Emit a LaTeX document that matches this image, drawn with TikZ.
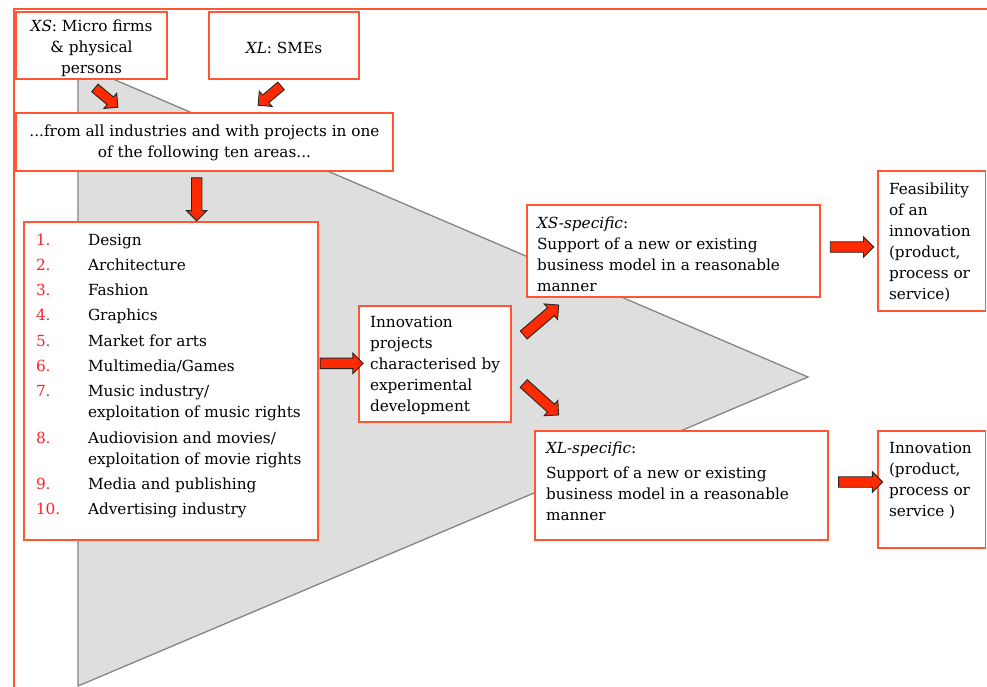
\documentclass[tikz,border=0pt]{standalone}
\usepackage{fontspec}
\setmainfont{DejaVu Serif}
\usetikzlibrary{shapes.arrows}
\definecolor{boxred}{HTML}{FF5533}
\definecolor{arrred}{HTML}{FF2A00}
\definecolor{numred}{HTML}{FF2222}
\definecolor{trifill}{HTML}{DEDEDE}
\definecolor{triline}{HTML}{858585}
\newcommand\mystrut{\rule{0pt}{14.7pt}}
% left-aligned box text: width, height, left pad, top pad, content
\newcommand\bxl[5]{\parbox[c][#2pt][t]{#1pt}{\raggedright\leftskip=#3pt\relax\parindent=0pt\vspace*{#4pt}\mystrut #5}}
% centred box text: width, height, top pad, content
\newcommand\bxc[4]{\parbox[c][#2pt][t]{#1pt}{\centering\vspace*{#3pt}\mystrut #4}}
\newcommand\num[1]{\makebox[52pt][l]{\color{numred}#1}}
\tikzset{
  redbox/.style={draw=boxred, line width=1.6pt, fill=white, inner sep=0pt, outer sep=0pt,
    anchor=north west, font=\fontsize{15.3}{21}\selectfont},
  barrow/.style={single arrow, draw=black!85, line width=0.9pt, fill=arrred,
    inner xsep=0pt, inner ysep=4.8pt, single arrow head extend=5pt,
    minimum width=0pt, outer sep=0pt},
  sbarrow/.style={barrow, inner ysep=4.5pt, single arrow head extend=5pt},
}
\begin{document}
\begin{tikzpicture}[x=1pt,y=-1pt]
\useasboundingbox (0,0) rectangle (987,686);
\clip (0,0) rectangle (987,686);
% outer frame
\draw[boxred, line width=2pt] (14,8.5) rectangle (1000,700);
% grey triangle
\filldraw[fill=trifill, draw=triline, line width=1.3pt, line join=miter]
  (78,64) -- (78,686) -- (808,377) -- cycle;
% boxes
\node[redbox] (xs) at (16,12) {\bxc{151}{67}{4.3}{\textit{XS}: Micro firms\\ \& physical\\ persons}};
\node[redbox] (xl) at (209,12) {\bxc{150}{67}{26.3}{\textit{XL}: SMEs}};
\node[redbox] (from) at (16,113) {\bxc{377}{58}{8.3}{...from all industries and with projects in one\\ of the following ten areas...}};
\node[redbox] (list) at (24,222) {\bxl{294}{318}{12}{8.3}{%
\num{1.}Design\\[4.3pt]
\num{2.}Architecture\\[4.3pt]
\num{3.}Fashion\\[4.3pt]
\num{4.}Graphics\\[4.3pt]
\num{5.}Market for arts\\[4.3pt]
\num{6.}Multimedia/Games\\[4.3pt]
\num{7.}Music industry/\\
\hspace*{52pt}exploitation of music rights\\[4.3pt]
\num{8.}Audiovision and movies/\\
\hspace*{52pt}exploitation of movie rights\\[4.3pt]
\num{9.}Media and publishing\\[4.3pt]
\num{10.}Advertising industry}};
\node[redbox] (innov) at (359,306) {\bxl{152}{116}{11}{7}{Innovation\\ projects\\ characterised by\\ experimental\\ development}};
\node[redbox] (xsspec) at (527,205) {\bxl{293}{92}{10}{8.3}{\textit{XS-specific}:\\ Support of a new or existing\\ business model in a reasonable\\ manner}};
\node[redbox] (xlspec) at (535,431) {\bxl{293}{109}{11}{7.3}{\textit{XL-specific}:\\[4pt] Support of a new or existing\\ business model in a reasonable\\ manner}};
\node[redbox] (feas) at (878,171) {\bxl{107.5}{140}{11}{8.3}{Feasibility\\ of an\\ innovation\\ (product,\\ process or\\ service)}};
\node[redbox] (inno) at (878,431) {\bxl{107.5}{117}{11}{7.3}{Innovation\\ (product,\\ process or\\ service )}};
% block arrows
\node[sbarrow, minimum height=30pt, rotate=-40] (a1) at (104.5,96) {};
\node[sbarrow, minimum height=30pt, rotate=-140] (a2) at (271.5,94) {};
\node[barrow, minimum height=43pt, rotate=-90] (a3) at (196.7,196.7) {};
\node[barrow, minimum height=43pt] (a4) at (339,363.3) {};
\node[barrow, minimum height=46pt, rotate=40.6] (a5) at (539.2,321.7) {};
\node[barrow, minimum height=47pt, rotate=-42] (a6) at (539.2,397.5) {};
\node[barrow, minimum height=43.5pt] (a7) at (849.4,247) {};
\node[barrow, minimum height=44pt] (a8) at (858,482) {};
\end{tikzpicture}
\end{document}
